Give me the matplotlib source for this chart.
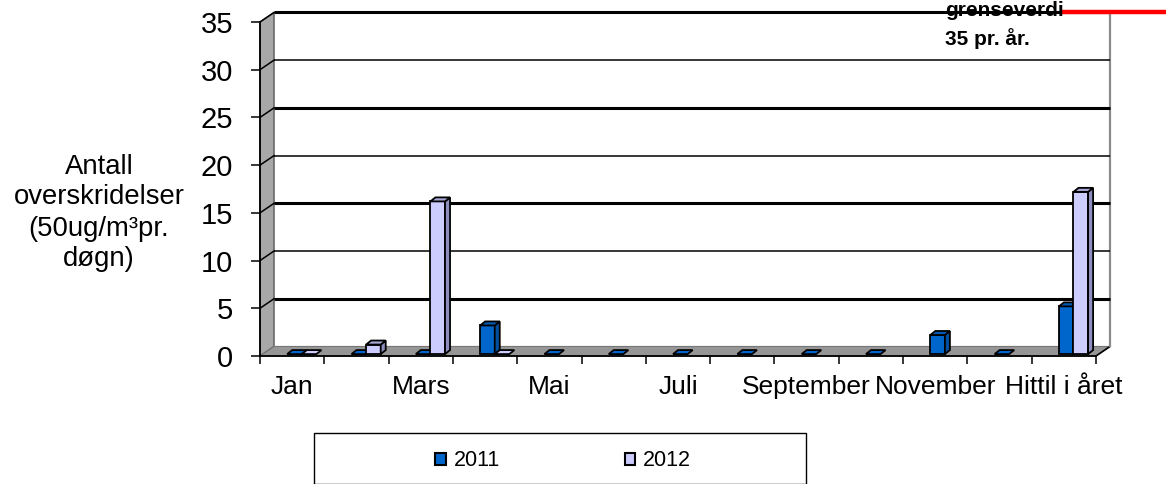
import numpy as np
import matplotlib
matplotlib.use("Agg")
import matplotlib.pyplot as plt
from matplotlib.patches import Polygon, Patch, Rectangle

plt.rcParams['font.family'] = ['Liberation Sans', 'DejaVu Sans']

# data
months = ['Jan', 'Feb', 'Mars', 'April', 'Mai', 'Juni', 'Juli', 'August',
          'September', 'Oktober', 'November', 'Desember', 'Hittil i året']
v2011 = [0, 0, 0, 3, 0, 0, 0, 0, 0, 0, 2, 0, 5]
v2012 = [0, 1, 16, 0, None, None, None, None, None, None, None, None, 17]
limit = 35
yticks = [0, 5, 10, 15, 20, 25, 30, 35]

# colours: front, side, top
c2011 = ('#0066CC', '#00509F', '#005AB4')
c2012 = ('#CCCCFF', '#8E8EBE', '#A8A8D8')

W, H = 1166, 484
fig = plt.figure(figsize=(W / 100, H / 100), dpi=100)
ax = fig.add_axes([260 / W, (H - 356) / H, 836 / W, 334 / H])
n = len(months)
ax.set_xlim(-0.5, n - 0.5)
ax.set_ylim(0, 35)

# 3d look: back plane offset and bar depth
dx, dy = 0.218, 1.0
bdx, bdy = 0.078, 0.42
base = 0.2
bw = 0.227
off = 0.15

x0, x1 = -0.5, n - 0.5
# wall and floor
ax.add_patch(Polygon([(x0, 0), (x0, 35), (x0 + dx, 35 + dy), (x0 + dx, dy)],
                     closed=True, fc='#A8A8A8', ec='#555555', lw=1, clip_on=False, zorder=1))
ax.add_patch(Polygon([(x0, 0), (x1, 0), (x1 + dx, dy), (x0 + dx, dy)],
                     closed=True, fc='#969696', ec='#777777', lw=0.8, clip_on=False, zorder=1))
ax.plot([x1, x1 + dx], [0, dy], color='black', lw=1.2, clip_on=False, zorder=2)
ax.plot([x1 + dx, x1 + dx], [dy, 35 + dy], color='#8A8A8A', lw=1.6, clip_on=False, zorder=2)

# gridlines on back plane + wall diagonals
for v in yticks[1:]:
    lw = 2.2 if v % 10 == 5 else 1.1
    ax.plot([x0 + dx, x1 + dx], [v + dy, v + dy], color='black', lw=lw,
            clip_on=False, zorder=2, solid_capstyle='butt')
    ax.plot([x0, x0 + dx], [v, v + dy], color='black', lw=1.1, clip_on=False, zorder=2)


def draw_bar(xl, val, cols):
    if val is None:
        return
    if val == 0:
        ax.add_patch(Polygon([(xl, base), (xl + bw, base), (xl + bw + bdx, base + bdy),
                              (xl + bdx, base + bdy)], closed=True, fc=cols[0], ec='black',
                             lw=1.3, zorder=4))
        return
    ax.bar(xl, val, width=bw, bottom=base, align='edge', color=cols[0],
           edgecolor='black', linewidth=1.3, zorder=4)
    top = base + val
    ax.add_patch(Polygon([(xl + bw, base), (xl + bw + bdx, base + bdy),
                          (xl + bw + bdx, top + bdy), (xl + bw, top)],
                         closed=True, fc=cols[1], ec='black', lw=1.3, zorder=4))
    ax.add_patch(Polygon([(xl, top), (xl + bw, top), (xl + bw + bdx, top + bdy),
                          (xl + bdx, top + bdy)], closed=True, fc=cols[2], ec='black',
                         lw=1.3, zorder=4))


for i in range(n):
    draw_bar(i + off - bw, v2011[i], c2011)
    draw_bar(i + off, v2012[i], c2012)

# limit line
ax.axhline(limit + dy, xmin=0.9605, xmax=1.1, color='#FF0000', lw=3.2,
           clip_on=False, zorder=6)
fig.text(945 / W, 1 - 16 / H, 'grenseverdi', fontsize=15, fontweight='bold',
         va='baseline', ha='left')
fig.text(945 / W, 1 - 45 / H, '35 pr. år.', fontsize=15, fontweight='bold',
         va='baseline', ha='left')

# axes
for s in ['top', 'right']:
    ax.spines[s].set_visible(False)
ax.spines['left'].set_linewidth(1.3)
ax.spines['bottom'].set_linewidth(1.3)
ax.set_yticks(yticks)
ax.set_yticklabels([str(t) for t in yticks], fontsize=21)
ax.tick_params(axis='y', length=6.5, width=1.1, pad=13, direction='out')
ax.set_xticks(range(n))
ax.set_xticklabels([m if i % 2 == 0 else '' for i, m in enumerate(months)], fontsize=19)
ax.set_xticks(np.arange(-0.5, n, 1), minor=True)
ax.tick_params(axis='x', which='major', length=0, pad=14)
ax.tick_params(axis='x', which='minor', length=6, width=1.1, direction='out')
ax.patch.set_visible(False)

fig.text(99 / W, 1 - 213 / H, 'Antall\noverskridelser\n(50ug/m³pr.\ndøgn)',
         fontsize=19.8, ha='center', va='center', linespacing=1.25)

# legend box
fig.patches.append(Rectangle((314 / W, 0), (806 - 314) / W, (H - 433) / H,
                             transform=fig.transFigure, fc='white', ec='black', lw=1))
handles = [Patch(fc=c2011[0], ec='black', lw=1.5), Patch(fc=c2012[0], ec='black', lw=1.5)]
fig.legend(handles, ['2011', '2012'], loc='center', bbox_to_anchor=(563 / W, 1 - 461 / H),
           ncol=2, frameon=False, fontsize=15.5, handlelength=0.5, handleheight=0.5,
           handletextpad=0.35, columnspacing=5.8)

fig.savefig('out.png', dpi=100)
